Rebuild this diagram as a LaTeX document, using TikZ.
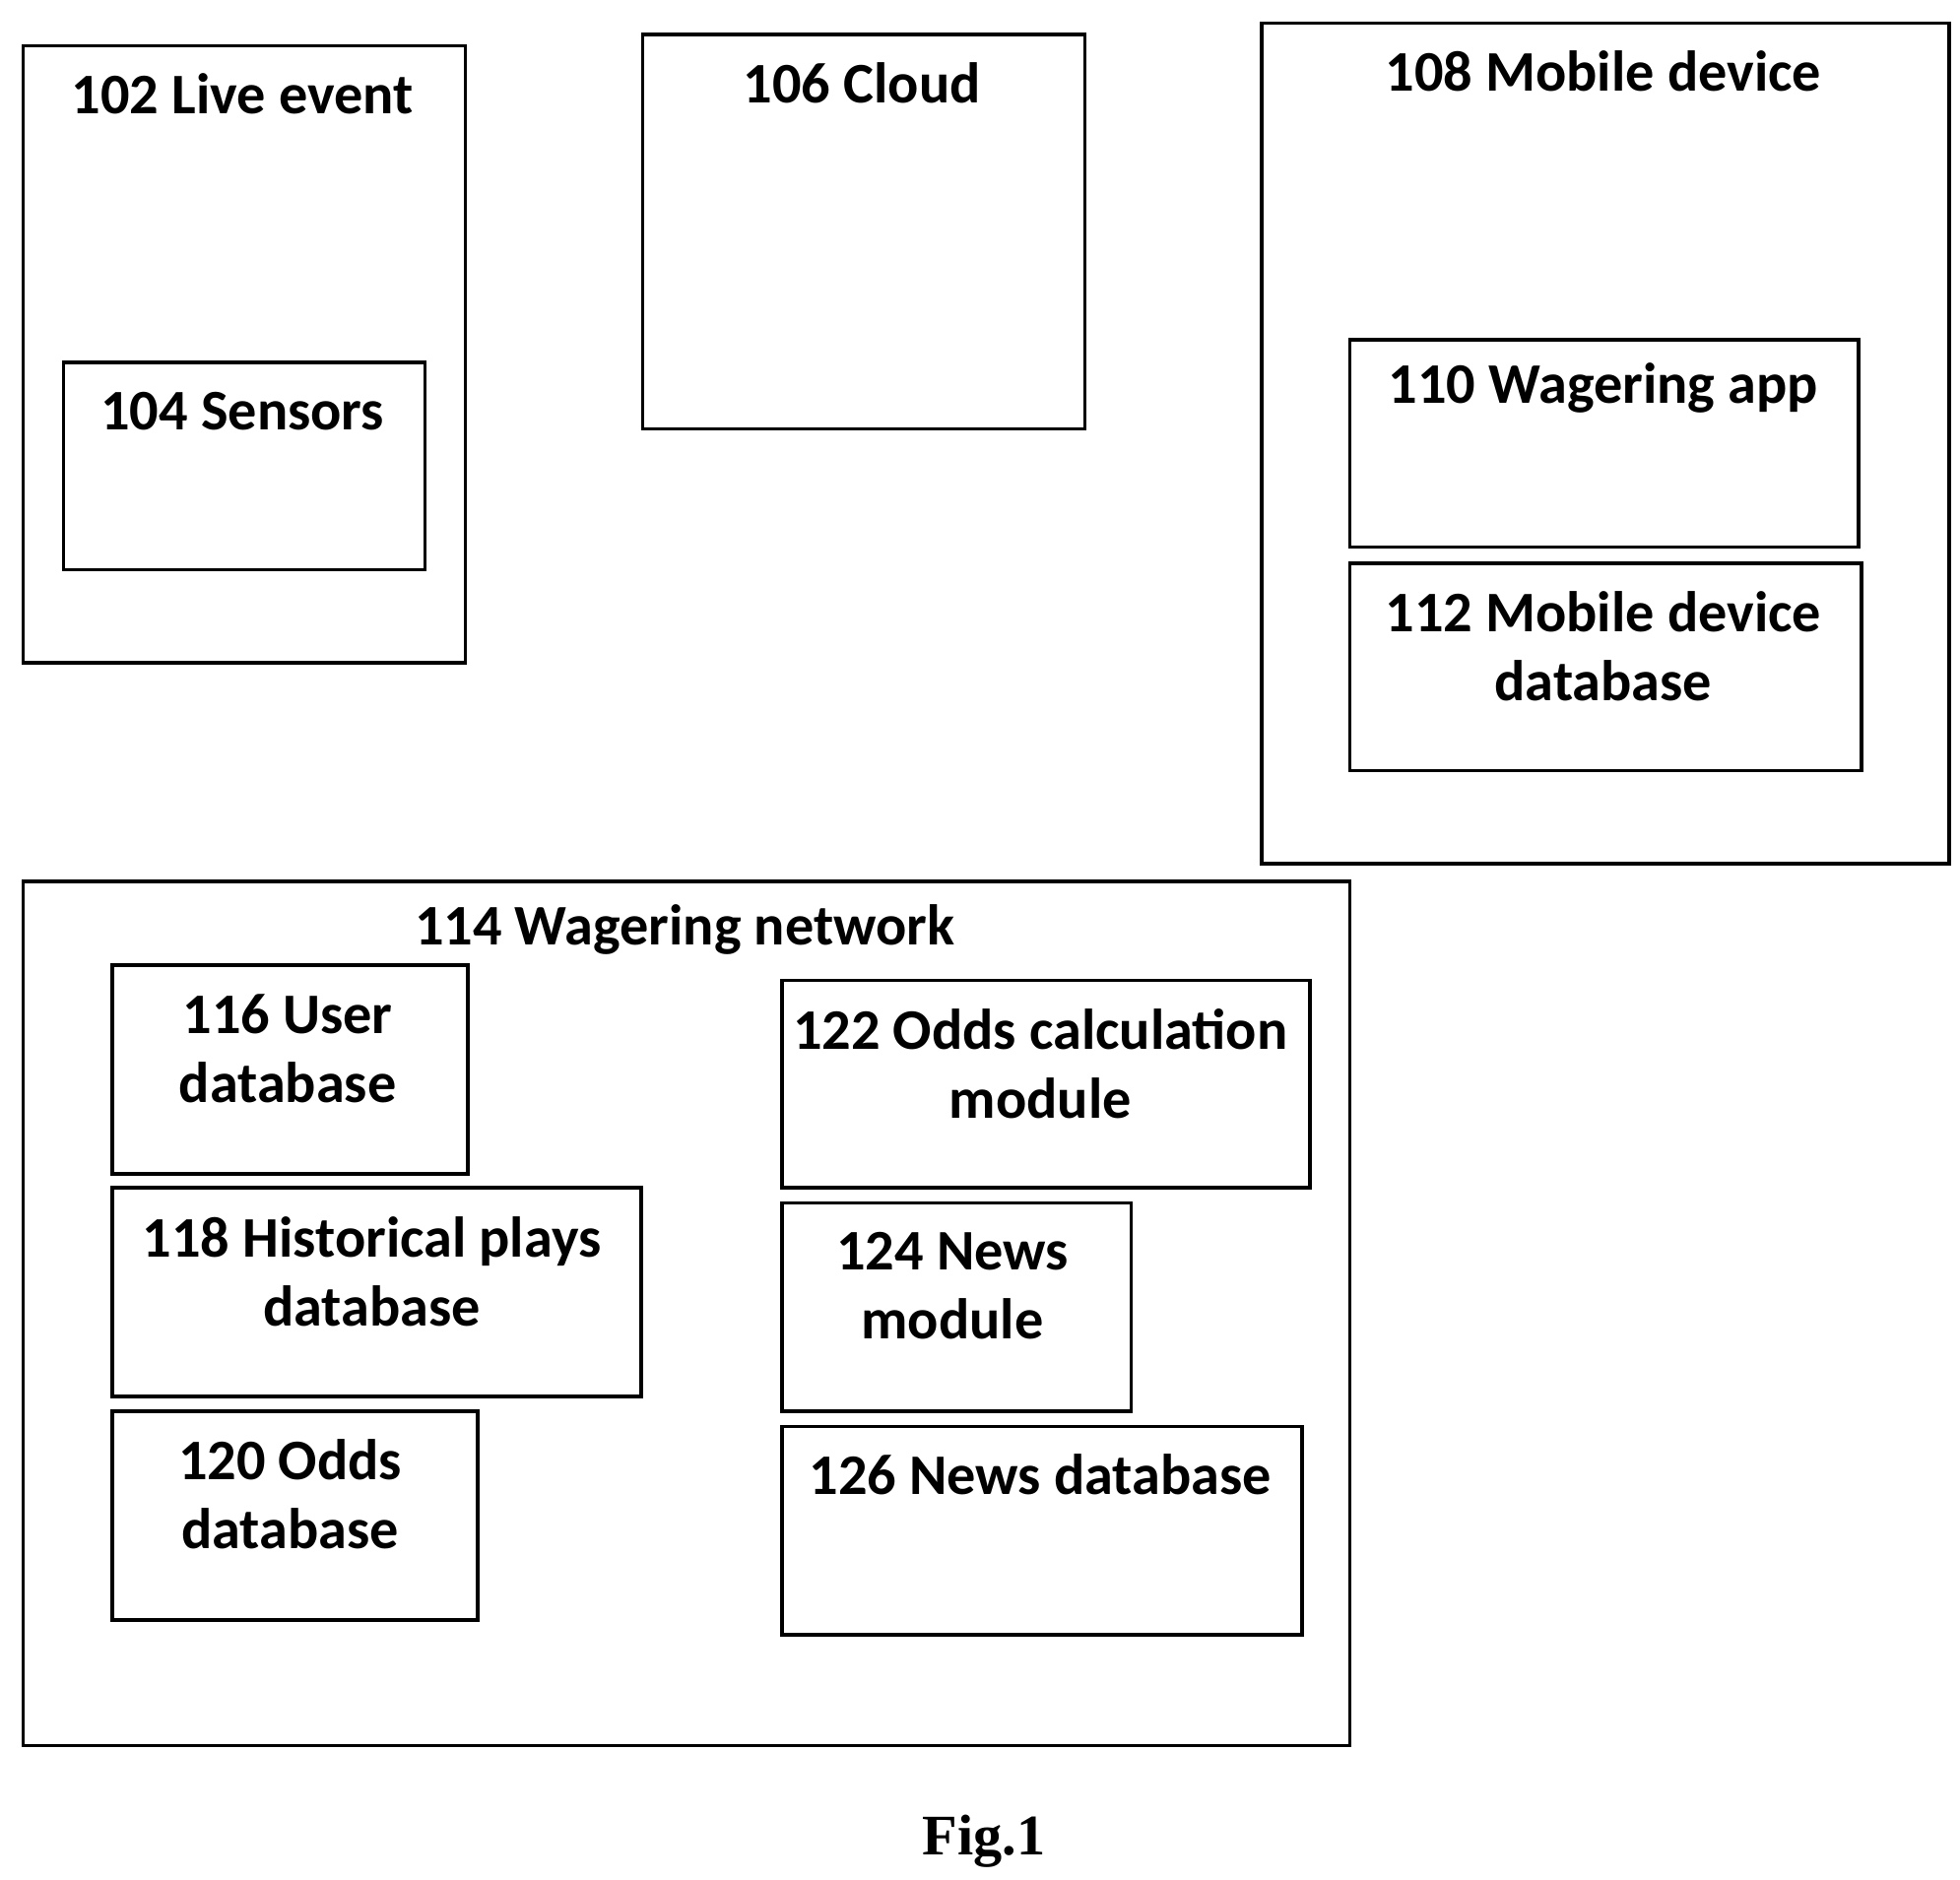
\documentclass[tikz,border=0pt]{standalone}
\usepackage{fontspec}
\setmainfont{Carlito}
\newfontfamily\figfont{Liberation Serif}
\usetikzlibrary{positioning}
\tikzset{
  box/.style={draw, line width=0.8pt, anchor=north west, inner sep=0pt},
  lbl/.style={align=center, font=\fontsize{13}{15.6}\selectfont\bfseries, inner sep=0pt}
}
\begin{document}
\begin{tikzpicture}
    \useasboundingbox (0,0) rectangle (15.6,-14.96);
    % outer boxes
    \node[box, minimum width=3.52cm, minimum height=4.91cm] (live) at (0.17,-0.35) {};
    \node[lbl] (tlive) at (1.93,-0.75) {102 Live event};
    \node[box, minimum width=2.88cm, minimum height=1.65cm] (sens) at (0.49,-2.87) {};
    \node[lbl] (tsens) at (1.93,-3.27) {104 Sensors};
    \node[box, minimum width=3.52cm, minimum height=3.14cm] (cloud) at (5.10,-0.26) {};
    \node[lbl] (tcloud) at (6.86,-0.66) {106 Cloud};
    \node[box, minimum width=5.47cm, minimum height=6.69cm] (mob) at (10.03,-0.17) {};
    \node[lbl] (tmob) at (12.76,-0.57) {108 Mobile device};
    \node[box, minimum width=4.05cm, minimum height=1.65cm] (app) at (10.73,-2.69) {};
    \node[lbl] (tapp) at (12.76,-3.09) {110 Wagering app};
    \node[box, minimum width=4.07cm, minimum height=1.65cm] (mobdb) at (10.73,-4.47) {};
    \node[lbl] (tmobdb) at (12.76,-5.145) {112 Mobile device\\database};
    % wagering network
    \node[box, minimum width=10.56cm, minimum height=6.88cm] (net) at (0.17,-7.00) {};
    \node[lbl] (tnet) at (5.45,-7.40) {114 Wagering network};
    \node[box, minimum width=2.83cm, minimum height=1.66cm] (user) at (0.88,-7.67) {};
    \node[lbl] (tuser) at (2.29,-8.345) {116 User\\database};
    \node[box, minimum width=4.21cm, minimum height=1.66cm] (hist) at (0.88,-9.44) {};
    \node[lbl] (thist) at (2.96,-10.125) {118 Historical plays\\database};
    \node[box, minimum width=2.91cm, minimum height=1.66cm] (odds) at (0.88,-11.22) {};
    \node[lbl] (todds) at (2.31,-11.895) {120 Odds\\database};
    \node[box, minimum width=4.20cm, minimum height=1.65cm] (calc) at (6.21,-7.79) {};
    \node[lbl] (tcalc) at (8.28,-8.465) {122 Odds calculation\\module};
    \node[box, minimum width=2.78cm, minimum height=1.66cm] (news) at (6.21,-9.56) {};
    \node[lbl] (tnews) at (7.58,-10.235) {124 News\\module};
    \node[box, minimum width=4.14cm, minimum height=1.66cm] (newsdb) at (6.21,-11.34) {};
    \node[lbl] (tnewsdb) at (8.28,-11.74) {126 News database};
    % caption
    \node[inner sep=0pt, font=\figfont\fontsize{13}{15}\selectfont\bfseries] (fig) at (7.83,-14.66) {Fig.1};
\end{tikzpicture}
\end{document}
